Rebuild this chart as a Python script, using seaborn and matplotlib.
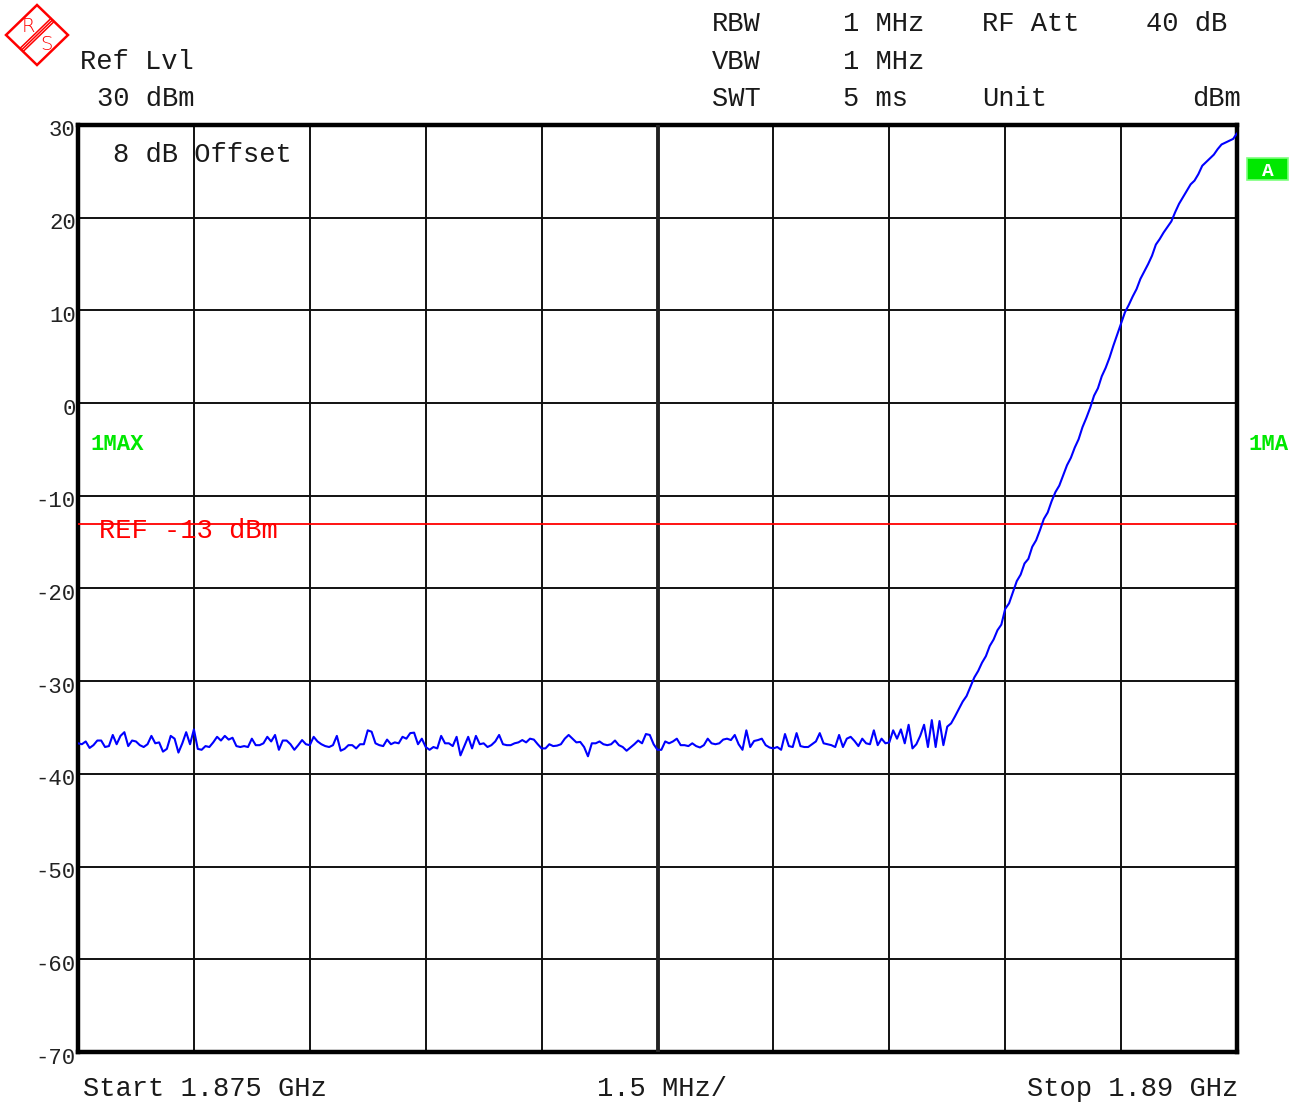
import numpy as np
import pandas as pd
import seaborn as sns
import matplotlib
matplotlib.use("Agg")
import matplotlib.pyplot as plt
from matplotlib.patches import Polygon, Rectangle
from matplotlib.transforms import ScaledTranslation, blended_transform_factory

# ---- sweep settings (MHz / dBm) ----
START_MHZ = 1875.0
STOP_MHZ = 1890.0
SPAN_DIV_MHZ = 1.5
REF_LEVEL = 30
REF_LINE = -13
Y_BOTTOM = -70

# ---- trace 1 (max hold), 301 sweep points from start to stop ----
level_dbm = [
    -36.7, -36.8, -36.5, -37.2, -36.9, -36.4, -36.4, -37.1, -37.0, -35.8,
    -36.8, -35.9, -35.5, -37.0, -36.4, -36.5, -36.9, -37.1, -36.8, -35.9,
    -36.7, -36.6, -37.6, -37.3, -35.9, -36.2, -37.7, -36.7, -35.5, -36.8,
    -35.2, -37.3, -37.4, -37.0, -37.1, -36.6, -36.0, -36.4, -35.9, -36.3,
    -36.1, -37.0, -37.1, -37.0, -37.1, -36.2, -36.9, -36.9, -36.7, -36.0,
    -36.5, -35.8, -37.4, -36.4, -36.4, -36.8, -37.4, -36.9, -36.35, -36.8,
    -36.9, -36.0, -36.5, -36.8, -37.0, -37.1, -36.9, -35.9, -37.5, -37.3,
    -36.9, -36.9, -37.25, -36.8, -36.8, -35.3, -35.45, -36.7, -36.9, -37.0,
    -36.3, -36.8, -36.6, -36.7, -36.0, -36.2, -35.6, -35.55, -36.8, -36.2,
    -37.1, -37.4, -37.1, -37.25, -35.9, -36.7, -36.7, -37.0, -36.0, -38.0,
    -37.0, -36.0, -37.25, -35.9, -36.8, -36.7, -37.1, -36.9, -36.5, -35.8,
    -36.8, -36.9, -36.9, -36.7, -36.6, -36.35, -36.6, -36.2, -36.3, -36.8,
    -37.25, -37.25, -36.8, -37.0, -36.95, -36.8, -36.2, -35.8, -36.2, -36.6,
    -36.55, -37.1, -38.1, -36.7, -36.7, -36.5, -36.8, -36.9, -36.8, -36.4,
    -36.9, -37.1, -37.5, -37.15, -36.8, -36.4, -36.7, -35.7, -35.8, -36.8,
    -37.4, -37.4, -36.5, -36.7, -36.5, -36.2, -36.9, -36.9, -37.0, -36.7,
    -37.0, -37.15, -36.9, -36.2, -36.7, -36.8, -36.7, -36.3, -36.2, -36.35,
    -35.8, -36.8, -37.4, -35.3, -37.1, -36.45, -36.35, -36.2, -36.9, -37.15,
    -37.25, -37.1, -37.4, -35.7, -37.0, -37.1, -35.6, -37.0, -37.1, -37.1,
    -36.8, -36.5, -35.6, -36.7, -36.8, -36.9, -37.1, -35.8, -37.1, -36.2,
    -36.0, -36.45, -37.0, -36.2, -36.7, -36.8, -35.3, -36.9, -36.2, -36.7,
    -36.6, -35.3, -36.2, -35.2, -36.7, -34.7, -37.25, -36.8, -35.9, -34.7,
    -37.1, -34.2, -37.1, -34.3, -36.9, -34.9, -34.55, -33.8, -33.0, -32.2,
    -31.6, -30.6, -29.6, -28.9, -28.0, -27.3, -26.2, -25.5, -24.5, -23.9,
    -22.2, -21.6, -20.4, -19.2, -18.5, -17.3, -16.8, -15.5, -14.8, -13.7,
    -12.5, -11.8, -10.6, -9.6, -8.9, -7.8, -6.7, -5.9, -4.8, -3.9,
    -2.6, -1.6, -0.5, 0.8, 1.6, 2.9, 3.8, 4.9, 6.2, 7.4,
    8.6, 9.8, 10.6, 11.5, 12.3, 13.4, 14.2, 15.0, 15.9, 17.1,
    17.7, 18.4, 19.0, 19.6, 20.6, 21.5, 22.2, 22.9, 23.6, 24.0,
    24.7, 25.6, 26.0, 26.4, 26.8, 27.4, 27.9, 28.1, 28.3, 28.5,
    29.1,
]

y_ticks = [30, 20, 10, 0, -10, -20, -30, -40, -50, -60, -70]
y_tick_labels = ["30", "20", "10", "0", "-10", "-20", "-30", "-40", "-50", "-60", "-70"]

# ---- header / footer annotations ----
header_rows = [
    ("RBW", "1 MHz", "RF Att", "40 dB"),
    ("VBW", "1 MHz", "", ""),
    ("SWT", "5 ms", "Unit", "dBm"),
]
ref_lvl_title = "Ref Lvl"
ref_lvl_value = "30 dBm"
offset_note = "8 dB Offset"
ref_line_label = "REF -13 dBm"
trace_label = "1MAX"
trace_label_right = "1MA"
start_label = "Start 1.875 GHz"
div_label = "1.5 MHz/"
stop_label = "Stop 1.89 GHz"

freq_mhz = np.linspace(START_MHZ, STOP_MHZ, len(level_dbm))
df = pd.DataFrame({"freq": freq_mhz, "level": level_dbm})

W, H = 1303, 1104
sns.set_style("white")
plt.rcParams["font.family"] = ["Liberation Mono", "DejaVu Sans Mono"]

TXT = 19.5
INK = "#1a1a1a"
GREEN = "#00e800"
RED = "#ff0000"

fig = plt.figure(figsize=(W / 100, H / 100), dpi=100)
fig.patch.set_facecolor("white")


def ftext(x, y, s, **kw):
    """Place text using pixel coordinates measured from the top-left corner."""
    kw.setdefault("fontsize", TXT)
    kw.setdefault("color", INK)
    kw.setdefault("va", "center")
    kw.setdefault("ha", "left")
    return fig.text(x / W, 1 - (y + 2) / H, s, **kw)


ax = fig.add_axes([78 / W, 1 - 1052 / H, 1159 / W, 927 / H])
ax.set_facecolor("white")

sns.lineplot(data=df, x="freq", y="level", ax=ax, color="#0000ff",
             linewidth=1.5, zorder=6, estimator=None)

ax.set_xlim(START_MHZ, STOP_MHZ)
ax.set_ylim(Y_BOTTOM, REF_LEVEL)
ax.set_xticks(np.arange(START_MHZ, STOP_MHZ + 0.01, SPAN_DIV_MHZ))
ax.set_yticks(y_ticks)
ax.set_yticklabels([])
ax.tick_params(axis="both", length=0, labelbottom=False, labelleft=False)
ax.set_xlabel("")
ax.set_ylabel("")
ax.grid(True, color="#111111", linewidth=1.4)
ax.set_axisbelow(True)
for sp in ax.spines.values():
    sp.set_linewidth(3.2)
    sp.set_color("black")

# centre frequency line is drawn heavier
ax.axvline((START_MHZ + STOP_MHZ) / 2, color="#222222", linewidth=2.8, zorder=3)
# display line
ax.axhline(REF_LINE, color=RED, linewidth=1.3, zorder=5)

# y tick labels, sitting just below their grid lines
lab_tr = blended_transform_factory(ax.transAxes, ax.transData) + \
    ScaledTranslation(0, -6 / 100, fig.dpi_scale_trans)
for v, s in zip(y_ticks, y_tick_labels):
    ax.text(-0.002, v, s, transform=lab_tr, ha="right", va="center",
            fontsize=16, color="#222222", clip_on=False)

# header block
col_x = [712, 843, 982, 1146]
row_y = [22, 60, 97]
for ry, row in zip(row_y, header_rows):
    for cx, s in zip(col_x, row):
        if s:
            ftext(cx if s != "dBm" else 1192, ry, s)
ftext(80, 60, ref_lvl_title)
ftext(97, 97, ref_lvl_value)
ftext(113, 153, offset_note)

# footer
ftext(83, 1087, start_label)
ftext(597, 1087, div_label)
ftext(1027, 1087, stop_label)

# display line label and trace labels
ftext(99, 529, ref_line_label, color=RED)
ftext(91, 443, trace_label, color=GREEN, fontweight="bold", fontsize=16)
ftext(1248, 443, trace_label_right, color=GREEN, fontweight="bold", fontsize=16)

# trace "A" badge
fig.add_artist(Rectangle((1247 / W, 1 - 180 / H), 41 / W, 22 / H,
                         transform=fig.transFigure, facecolor=GREEN,
                         edgecolor="#7dff7d", linewidth=1.2))
ftext(1268, 170, "A", color="white", fontweight="bold", fontsize=14, ha="center")

# manufacturer emblem
lax = fig.add_axes([0, 1 - 72 / H, 74 / W, 72 / H])
lax.set_xlim(0, 74)
lax.set_ylim(72, 0)
lax.axis("off")
lax.add_patch(Polygon([(37, 5), (68, 35), (37, 65), (6, 35)], closed=True,
                      fill=False, edgecolor=RED, linewidth=1.8))
p0 = np.array([52.5, 20.0])
p1 = np.array([21.5, 50.0])
perp = np.array([31.0, 30.0]) / np.hypot(31.0, 30.0)
for k in (-2.2, 0.0, 2.2):
    a = p0 + k * perp
    b = p1 + k * perp
    lax.plot([a[0], b[0]], [a[1], b[1]], color=RED, linewidth=1.1)
lax.text(28, 26, "R", color=RED, fontsize=14, ha="center", va="center",
         family="DejaVu Sans", fontweight="light")
lax.text(46, 45, "S", color=RED, fontsize=14, ha="center", va="center",
         family="DejaVu Sans", fontweight="light")

fig.savefig("out.png", dpi=100, facecolor="white")
